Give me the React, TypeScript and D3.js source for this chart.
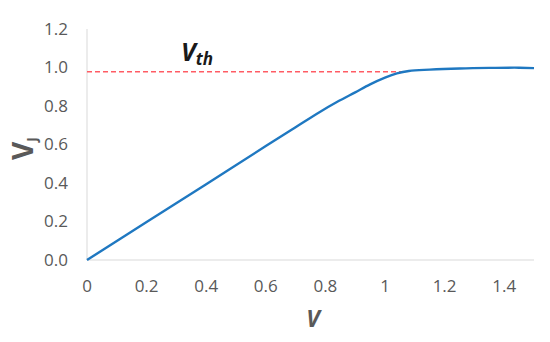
import React from 'react';
import * as d3 from 'd3';

// readings
const voltage = [0, 0.2, 0.4, 0.6, 0.7, 0.78, 0.84, 0.9, 0.95, 1.0, 1.04, 1.08, 1.15, 1.25, 1.35, 1.45, 1.5];
const junction = [0, 0.197, 0.394, 0.592, 0.69, 0.768, 0.822, 0.871, 0.912, 0.947, 0.969, 0.982, 0.989, 0.995, 0.998, 0.999, 0.997];
const xTicks = [0, 0.2, 0.4, 0.6, 0.8, 1, 1.2, 1.4];
const yTicks = [0, 0.2, 0.4, 0.6, 0.8, 1.0, 1.2];
const threshold = { value: 0.978, end: 1.074 };

const W = 550, H = 342;
const margin = { left: 87, right: 16, top: 29, bottom: 82 };
const font = '"Open Sans", "Liberation Sans", sans-serif';
const grey = '#595959';

export default function App() {
    const x = d3.scaleLinear().domain([0, 1.5]).range([margin.left, W - margin.right]);
    const y = d3.scaleLinear().domain([0, 1.2]).range([H - margin.bottom, margin.top]);

    const pts: [number, number][] = voltage.map((v, i) => [v, junction[i]]);
    const line = d3.line<[number, number]>()
        .x(d => x(d[0]))
        .y(d => y(d[1]))
        .curve(d3.curveCatmullRom.alpha(0.5));

    return (
        <svg width={W} height={H} style={{ position: 'absolute', left: 0, top: 0 }} fontFamily={font}>
            <rect width={W} height={H} fill="#fff" />
            {/* axes */}
            <line x1={x(0)} x2={x(0)} y1={y(1.2)} y2={y(0)} stroke="#d9d9d9" strokeWidth={1} />
            <line x1={x(0)} x2={x(1.5)} y1={y(0)} y2={y(0)} stroke="#d9d9d9" strokeWidth={1.2} />

            {yTicks.map(t => (
                <text key={t} x={x(0) - 19} y={y(t)} dy="0.35em" textAnchor="end" fontSize={17} fill={grey}>
                    {t.toFixed(1)}
                </text>
            ))}
            {xTicks.map(t => (
                <text key={t} x={x(t)} y={y(0) + 32} textAnchor="middle" fontSize={17} fill={grey}>
                    {String(t)}
                </text>
            ))}

            {/* threshold */}
            <line x1={x(0)} x2={x(threshold.end)} y1={y(threshold.value)} y2={y(threshold.value)}
                  stroke="#ff5c64" strokeWidth={1.3} strokeDasharray="5,3" />
            <text x={181} y={61} fontSize={25} fontWeight="bold" fontStyle="italic" fill="#1a1a1a">
                V<tspan fontSize={17} dy={4}>th</tspan>
            </text>

            {/* curve */}
            <path d={line(pts) || ''} fill="none" stroke="#1f78c1" strokeWidth={2.4} />

            {/* axis titles */}
            <text x={313} y={327} textAnchor="middle" fontSize={23} fontWeight="bold" fontStyle="italic" fill={grey}>V</text>
            <text transform="translate(33,160) rotate(-90)" fontSize={28} fontWeight="bold" fill={grey}>
                V<tspan fontSize={14} dy={4}>J</tspan>
            </text>
        </svg>
    );
}
